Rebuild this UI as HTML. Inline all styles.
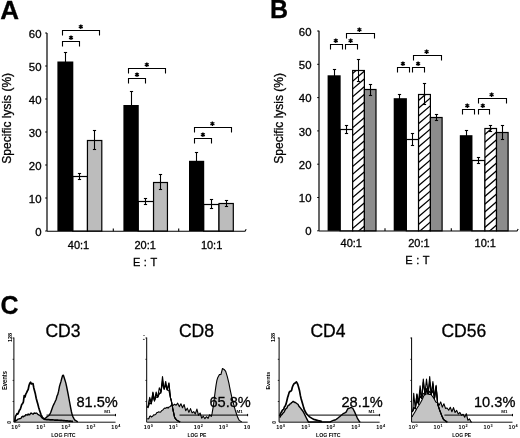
<!DOCTYPE html>
<html><head><meta charset="utf-8"><style>
html,body{margin:0;padding:0;background:#fff;}
svg{display:block;filter:grayscale(1) blur(0.3px);}
text{font-family:"Liberation Sans", sans-serif;fill:#000;}
.t{stroke:#000;stroke-width:0.3px;}
</style></head><body>
<svg width="520" height="438" viewBox="0 0 520 438">
<rect width="520" height="438" fill="#fff"/>
<g id="A">
<text class="t" x="0.30" y="19.00" font-size="26" text-anchor="start" font-weight="bold" >A</text>
<line x1="47.00" y1="33.00" x2="47.00" y2="231.00" stroke="#000" stroke-width="1.2"/>
<line x1="45.20" y1="231.00" x2="47.00" y2="231.00" stroke="#000" stroke-width="1.0"/>
<text class="t" x="41.50" y="235.60" font-size="11.4" text-anchor="end" font-weight="normal" >0</text>
<line x1="45.20" y1="198.00" x2="47.00" y2="198.00" stroke="#000" stroke-width="1.0"/>
<text class="t" x="41.50" y="202.60" font-size="11.4" text-anchor="end" font-weight="normal" >10</text>
<line x1="45.20" y1="165.00" x2="47.00" y2="165.00" stroke="#000" stroke-width="1.0"/>
<text class="t" x="41.50" y="169.60" font-size="11.4" text-anchor="end" font-weight="normal" >20</text>
<line x1="45.20" y1="132.00" x2="47.00" y2="132.00" stroke="#000" stroke-width="1.0"/>
<text class="t" x="41.50" y="136.60" font-size="11.4" text-anchor="end" font-weight="normal" >30</text>
<line x1="45.20" y1="99.00" x2="47.00" y2="99.00" stroke="#000" stroke-width="1.0"/>
<text class="t" x="41.50" y="103.60" font-size="11.4" text-anchor="end" font-weight="normal" >40</text>
<line x1="45.20" y1="66.00" x2="47.00" y2="66.00" stroke="#000" stroke-width="1.0"/>
<text class="t" x="41.50" y="70.60" font-size="11.4" text-anchor="end" font-weight="normal" >50</text>
<line x1="45.20" y1="33.00" x2="47.00" y2="33.00" stroke="#000" stroke-width="1.0"/>
<text class="t" x="41.50" y="37.60" font-size="11.4" text-anchor="end" font-weight="normal" >60</text>
<path d="M47.00,231.30 H245.00 l1.2,-2" fill="none" stroke="#000" stroke-width="1.1"/>
<line x1="113.30" y1="231.30" x2="113.30" y2="228.50" stroke="#000" stroke-width="1.1"/>
<line x1="178.70" y1="231.30" x2="178.70" y2="228.50" stroke="#000" stroke-width="1.1"/>
<rect x="72.70" y="176.50" width="14.75" height="54.50" fill="#fff" stroke="#000" stroke-width="1.2"/>
<rect x="87.45" y="140.50" width="14.35" height="90.50" fill="#bcbcbc" stroke="#000" stroke-width="1.2"/>
<rect x="57.40" y="61.50" width="15.90" height="169.50" fill="#000"/>
<line x1="65.50" y1="52.50" x2="65.50" y2="70.50" stroke="#000" stroke-width="1.1"/>
<line x1="63.90" y1="52.50" x2="67.10" y2="52.50" stroke="#000" stroke-width="1.1"/>
<line x1="63.90" y1="70.50" x2="67.10" y2="70.50" stroke="#000" stroke-width="1.1"/>
<line x1="79.50" y1="173.50" x2="79.50" y2="179.50" stroke="#000" stroke-width="1.1"/>
<line x1="77.90" y1="173.50" x2="81.10" y2="173.50" stroke="#000" stroke-width="1.1"/>
<line x1="77.90" y1="179.50" x2="81.10" y2="179.50" stroke="#000" stroke-width="1.1"/>
<line x1="94.50" y1="130.50" x2="94.50" y2="149.50" stroke="#000" stroke-width="1.1"/>
<line x1="92.90" y1="130.50" x2="96.10" y2="130.50" stroke="#000" stroke-width="1.1"/>
<line x1="92.90" y1="149.50" x2="96.10" y2="149.50" stroke="#000" stroke-width="1.1"/>
<path d="M62.50,46.50 V41.50 H79.50 V46.50" fill="none" stroke="#000" stroke-width="1.1"/>
<path d="M71.00,35.40 L71.00,40.00 M69.01,36.55 L72.99,38.85 M72.99,36.55 L69.01,38.85 " stroke="#000" stroke-width="1.3" fill="none"/>
<path d="M62.50,35.50 V30.50 H99.50 V35.50" fill="none" stroke="#000" stroke-width="1.1"/>
<path d="M80.80,24.40 L80.80,29.00 M78.81,25.55 L82.79,27.85 M82.79,25.55 L78.81,27.85 " stroke="#000" stroke-width="1.3" fill="none"/>
<rect x="138.15" y="201.50" width="15.40" height="29.50" fill="#fff" stroke="#000" stroke-width="1.2"/>
<rect x="153.55" y="182.50" width="13.90" height="48.50" fill="#bcbcbc" stroke="#000" stroke-width="1.2"/>
<rect x="123.40" y="105.00" width="15.35" height="126.00" fill="#000"/>
<line x1="131.50" y1="91.50" x2="131.50" y2="118.50" stroke="#000" stroke-width="1.1"/>
<line x1="129.90" y1="91.50" x2="133.10" y2="91.50" stroke="#000" stroke-width="1.1"/>
<line x1="129.90" y1="118.50" x2="133.10" y2="118.50" stroke="#000" stroke-width="1.1"/>
<line x1="145.50" y1="198.50" x2="145.50" y2="204.50" stroke="#000" stroke-width="1.1"/>
<line x1="143.90" y1="198.50" x2="147.10" y2="198.50" stroke="#000" stroke-width="1.1"/>
<line x1="143.90" y1="204.50" x2="147.10" y2="204.50" stroke="#000" stroke-width="1.1"/>
<line x1="160.50" y1="174.50" x2="160.50" y2="189.50" stroke="#000" stroke-width="1.1"/>
<line x1="158.90" y1="174.50" x2="162.10" y2="174.50" stroke="#000" stroke-width="1.1"/>
<line x1="158.90" y1="189.50" x2="162.10" y2="189.50" stroke="#000" stroke-width="1.1"/>
<path d="M128.50,83.50 V78.50 H145.50 V83.50" fill="none" stroke="#000" stroke-width="1.1"/>
<path d="M137.00,72.40 L137.00,77.00 M135.01,73.55 L138.99,75.85 M138.99,73.55 L135.01,75.85 " stroke="#000" stroke-width="1.3" fill="none"/>
<path d="M128.50,73.50 V68.50 H165.50 V73.50" fill="none" stroke="#000" stroke-width="1.1"/>
<path d="M146.80,62.40 L146.80,67.00 M144.81,63.55 L148.79,65.85 M148.79,63.55 L144.81,65.85 " stroke="#000" stroke-width="1.3" fill="none"/>
<rect x="203.60" y="204.50" width="15.40" height="26.50" fill="#fff" stroke="#000" stroke-width="1.2"/>
<rect x="219.00" y="203.50" width="14.30" height="27.50" fill="#bcbcbc" stroke="#000" stroke-width="1.2"/>
<rect x="189.00" y="160.80" width="15.20" height="70.20" fill="#000"/>
<line x1="196.50" y1="152.50" x2="196.50" y2="168.50" stroke="#000" stroke-width="1.1"/>
<line x1="194.90" y1="152.50" x2="198.10" y2="152.50" stroke="#000" stroke-width="1.1"/>
<line x1="194.90" y1="168.50" x2="198.10" y2="168.50" stroke="#000" stroke-width="1.1"/>
<line x1="211.50" y1="199.50" x2="211.50" y2="208.50" stroke="#000" stroke-width="1.1"/>
<line x1="209.90" y1="199.50" x2="213.10" y2="199.50" stroke="#000" stroke-width="1.1"/>
<line x1="209.90" y1="208.50" x2="213.10" y2="208.50" stroke="#000" stroke-width="1.1"/>
<line x1="226.50" y1="200.50" x2="226.50" y2="206.50" stroke="#000" stroke-width="1.1"/>
<line x1="224.90" y1="200.50" x2="228.10" y2="200.50" stroke="#000" stroke-width="1.1"/>
<line x1="224.90" y1="206.50" x2="228.10" y2="206.50" stroke="#000" stroke-width="1.1"/>
<path d="M194.50,143.50 V138.50 H211.50 V143.50" fill="none" stroke="#000" stroke-width="1.1"/>
<path d="M202.90,132.40 L202.90,137.00 M200.91,133.55 L204.89,135.85 M204.89,133.55 L200.91,135.85 " stroke="#000" stroke-width="1.3" fill="none"/>
<path d="M194.50,132.50 V127.50 H231.50 V132.50" fill="none" stroke="#000" stroke-width="1.1"/>
<path d="M212.40,121.40 L212.40,126.00 M210.41,122.55 L214.39,124.85 M214.39,122.55 L210.41,124.85 " stroke="#000" stroke-width="1.3" fill="none"/>
<text class="t" x="78.50" y="249.30" font-size="11" text-anchor="middle" font-weight="normal" >40:1</text>
<text class="t" x="145.20" y="249.30" font-size="11" text-anchor="middle" font-weight="normal" >20:1</text>
<text class="t" x="211.60" y="249.30" font-size="11" text-anchor="middle" font-weight="normal" >10:1</text>
<text class="t" x="145.00" y="266.00" font-size="11" text-anchor="middle" font-weight="normal" word-spacing="0.6">E : T</text>
<text class="t" x="10.80" y="118.30" font-size="12" text-anchor="middle" font-weight="normal" transform="rotate(-90 10.8 118.3)">Specific lysis (%)</text>
</g>
<g id="B">
<text class="t" x="270.00" y="18.00" font-size="25" text-anchor="start" font-weight="bold" >B</text>
<line x1="319.00" y1="30.80" x2="319.00" y2="230.80" stroke="#000" stroke-width="1.2"/>
<line x1="317.20" y1="230.80" x2="319.00" y2="230.80" stroke="#000" stroke-width="1.0"/>
<text class="t" x="311.50" y="235.40" font-size="11.4" text-anchor="end" font-weight="normal" >0</text>
<line x1="317.20" y1="197.50" x2="319.00" y2="197.50" stroke="#000" stroke-width="1.0"/>
<text class="t" x="311.50" y="202.10" font-size="11.4" text-anchor="end" font-weight="normal" >10</text>
<line x1="317.20" y1="164.20" x2="319.00" y2="164.20" stroke="#000" stroke-width="1.0"/>
<text class="t" x="311.50" y="168.80" font-size="11.4" text-anchor="end" font-weight="normal" >20</text>
<line x1="317.20" y1="130.90" x2="319.00" y2="130.90" stroke="#000" stroke-width="1.0"/>
<text class="t" x="311.50" y="135.50" font-size="11.4" text-anchor="end" font-weight="normal" >30</text>
<line x1="317.20" y1="97.60" x2="319.00" y2="97.60" stroke="#000" stroke-width="1.0"/>
<text class="t" x="311.50" y="102.20" font-size="11.4" text-anchor="end" font-weight="normal" >40</text>
<line x1="317.20" y1="64.30" x2="319.00" y2="64.30" stroke="#000" stroke-width="1.0"/>
<text class="t" x="311.50" y="68.90" font-size="11.4" text-anchor="end" font-weight="normal" >50</text>
<line x1="317.20" y1="31.00" x2="319.00" y2="31.00" stroke="#000" stroke-width="1.0"/>
<text class="t" x="311.50" y="35.60" font-size="11.4" text-anchor="end" font-weight="normal" >60</text>
<path d="M319.00,231.00 H517.00 l1.2,-2" fill="none" stroke="#000" stroke-width="1.1"/>
<line x1="385.00" y1="231.00" x2="385.00" y2="228.20" stroke="#000" stroke-width="1.1"/>
<line x1="451.30" y1="231.00" x2="451.30" y2="228.20" stroke="#000" stroke-width="1.1"/>
<rect x="340.05" y="129.50" width="12.60" height="101.30" fill="#fff" stroke="#000" stroke-width="1.2"/>
<clipPath id="hc1"><rect x="352.65" y="70.50" width="11.75" height="160.30"/></clipPath>
<rect x="352.65" y="70.50" width="11.75" height="160.30" fill="#fff"/>
<path d="M351.65,58.81 L365.40,46.98 M351.65,66.56 L365.40,54.73 M351.65,74.31 L365.40,62.48 M351.65,82.06 L365.40,70.23 M351.65,89.81 L365.40,77.98 M351.65,97.56 L365.40,85.73 M351.65,105.31 L365.40,93.48 M351.65,113.06 L365.40,101.23 M351.65,120.81 L365.40,108.98 M351.65,128.56 L365.40,116.73 M351.65,136.31 L365.40,124.48 M351.65,144.06 L365.40,132.23 M351.65,151.81 L365.40,139.98 M351.65,159.56 L365.40,147.73 M351.65,167.31 L365.40,155.48 M351.65,175.06 L365.40,163.23 M351.65,182.81 L365.40,170.98 M351.65,190.56 L365.40,178.73 M351.65,198.31 L365.40,186.48 M351.65,206.06 L365.40,194.23 M351.65,213.81 L365.40,201.98 M351.65,221.56 L365.40,209.73 M351.65,229.31 L365.40,217.48 M351.65,237.06 L365.40,225.23 M351.65,244.81 L365.40,232.98 M351.65,252.56 L365.40,240.73 " stroke="#000" stroke-width="1.3" fill="none" clip-path="url(#hc1)"/>
<rect x="352.65" y="70.50" width="11.75" height="160.30" fill="none" stroke="#000" stroke-width="1.2"/>
<rect x="364.40" y="89.50" width="11.60" height="141.30" fill="#8c8c8c" stroke="#000" stroke-width="1.2"/>
<rect x="327.60" y="75.30" width="13.05" height="155.50" fill="#000"/>
<line x1="334.50" y1="69.50" x2="334.50" y2="80.50" stroke="#000" stroke-width="1.1"/>
<line x1="332.90" y1="69.50" x2="336.10" y2="69.50" stroke="#000" stroke-width="1.1"/>
<line x1="332.90" y1="80.50" x2="336.10" y2="80.50" stroke="#000" stroke-width="1.1"/>
<line x1="346.50" y1="125.50" x2="346.50" y2="133.50" stroke="#000" stroke-width="1.1"/>
<line x1="344.90" y1="125.50" x2="348.10" y2="125.50" stroke="#000" stroke-width="1.1"/>
<line x1="344.90" y1="133.50" x2="348.10" y2="133.50" stroke="#000" stroke-width="1.1"/>
<line x1="358.50" y1="59.50" x2="358.50" y2="81.50" stroke="#000" stroke-width="1.1"/>
<line x1="356.90" y1="59.50" x2="360.10" y2="59.50" stroke="#000" stroke-width="1.1"/>
<line x1="356.90" y1="81.50" x2="360.10" y2="81.50" stroke="#000" stroke-width="1.1"/>
<line x1="370.50" y1="84.50" x2="370.50" y2="95.50" stroke="#000" stroke-width="1.1"/>
<line x1="368.90" y1="84.50" x2="372.10" y2="84.50" stroke="#000" stroke-width="1.1"/>
<line x1="368.90" y1="95.50" x2="372.10" y2="95.50" stroke="#000" stroke-width="1.1"/>
<path d="M330.50,49.40 V44.50 H342.50 V49.40" fill="none" stroke="#000" stroke-width="1.1"/>
<path d="M335.80,38.40 L335.80,43.00 M333.81,39.55 L337.79,41.85 M337.79,39.55 L333.81,41.85 " stroke="#000" stroke-width="1.3" fill="none"/>
<path d="M345.50,49.40 V44.50 H357.50 V49.40" fill="none" stroke="#000" stroke-width="1.1"/>
<path d="M350.60,38.40 L350.60,43.00 M348.61,39.55 L352.59,41.85 M352.59,39.55 L348.61,41.85 " stroke="#000" stroke-width="1.3" fill="none"/>
<path d="M346.50,38.40 V33.50 H374.50 V38.40" fill="none" stroke="#000" stroke-width="1.1"/>
<path d="M359.40,27.40 L359.40,32.00 M357.41,28.55 L361.39,30.85 M361.39,28.55 L357.41,30.85 " stroke="#000" stroke-width="1.3" fill="none"/>
<rect x="406.30" y="139.50" width="12.25" height="91.30" fill="#fff" stroke="#000" stroke-width="1.2"/>
<clipPath id="hc2"><rect x="418.55" y="94.50" width="11.85" height="136.30"/></clipPath>
<rect x="418.55" y="94.50" width="11.85" height="136.30" fill="#fff"/>
<path d="M417.55,85.81 L431.40,73.90 M417.55,93.56 L431.40,81.65 M417.55,101.31 L431.40,89.40 M417.55,109.06 L431.40,97.15 M417.55,116.81 L431.40,104.90 M417.55,124.56 L431.40,112.65 M417.55,132.31 L431.40,120.40 M417.55,140.06 L431.40,128.15 M417.55,147.81 L431.40,135.90 M417.55,155.56 L431.40,143.65 M417.55,163.31 L431.40,151.40 M417.55,171.06 L431.40,159.15 M417.55,178.81 L431.40,166.90 M417.55,186.56 L431.40,174.65 M417.55,194.31 L431.40,182.40 M417.55,202.06 L431.40,190.15 M417.55,209.81 L431.40,197.90 M417.55,217.56 L431.40,205.65 M417.55,225.31 L431.40,213.40 M417.55,233.06 L431.40,221.15 M417.55,240.81 L431.40,228.90 M417.55,248.56 L431.40,236.65 M417.55,256.31 L431.40,244.40 " stroke="#000" stroke-width="1.3" fill="none" clip-path="url(#hc2)"/>
<rect x="418.55" y="94.50" width="11.85" height="136.30" fill="none" stroke="#000" stroke-width="1.2"/>
<rect x="430.40" y="117.50" width="11.70" height="113.30" fill="#8c8c8c" stroke="#000" stroke-width="1.2"/>
<rect x="393.70" y="98.20" width="13.20" height="132.60" fill="#000"/>
<line x1="399.50" y1="94.50" x2="399.50" y2="100.50" stroke="#000" stroke-width="1.1"/>
<line x1="397.90" y1="94.50" x2="401.10" y2="94.50" stroke="#000" stroke-width="1.1"/>
<line x1="397.90" y1="100.50" x2="401.10" y2="100.50" stroke="#000" stroke-width="1.1"/>
<line x1="412.50" y1="133.50" x2="412.50" y2="145.50" stroke="#000" stroke-width="1.1"/>
<line x1="410.90" y1="133.50" x2="414.10" y2="133.50" stroke="#000" stroke-width="1.1"/>
<line x1="410.90" y1="145.50" x2="414.10" y2="145.50" stroke="#000" stroke-width="1.1"/>
<line x1="424.50" y1="83.50" x2="424.50" y2="104.50" stroke="#000" stroke-width="1.1"/>
<line x1="422.90" y1="83.50" x2="426.10" y2="83.50" stroke="#000" stroke-width="1.1"/>
<line x1="422.90" y1="104.50" x2="426.10" y2="104.50" stroke="#000" stroke-width="1.1"/>
<line x1="436.50" y1="114.50" x2="436.50" y2="120.50" stroke="#000" stroke-width="1.1"/>
<line x1="434.90" y1="114.50" x2="438.10" y2="114.50" stroke="#000" stroke-width="1.1"/>
<line x1="434.90" y1="120.50" x2="438.10" y2="120.50" stroke="#000" stroke-width="1.1"/>
<path d="M397.50,72.40 V67.50 H409.50 V72.40" fill="none" stroke="#000" stroke-width="1.1"/>
<path d="M402.90,61.40 L402.90,66.00 M400.91,62.55 L404.89,64.85 M404.89,62.55 L400.91,64.85 " stroke="#000" stroke-width="1.3" fill="none"/>
<path d="M412.50,72.40 V67.50 H424.50 V72.40" fill="none" stroke="#000" stroke-width="1.1"/>
<path d="M418.10,61.40 L418.10,66.00 M416.11,62.55 L420.09,64.85 M420.09,62.55 L416.11,64.85 " stroke="#000" stroke-width="1.3" fill="none"/>
<path d="M413.50,60.40 V55.50 H441.50 V60.40" fill="none" stroke="#000" stroke-width="1.1"/>
<path d="M426.60,49.40 L426.60,54.00 M424.61,50.55 L428.59,52.85 M428.59,50.55 L424.61,52.85 " stroke="#000" stroke-width="1.3" fill="none"/>
<rect x="471.85" y="160.50" width="13.05" height="70.30" fill="#fff" stroke="#000" stroke-width="1.2"/>
<clipPath id="hc3"><rect x="484.90" y="128.50" width="11.60" height="102.30"/></clipPath>
<rect x="484.90" y="128.50" width="11.60" height="102.30" fill="#fff"/>
<path d="M483.90,119.71 L497.50,108.01 M483.90,127.46 L497.50,115.76 M483.90,135.21 L497.50,123.51 M483.90,142.96 L497.50,131.26 M483.90,150.71 L497.50,139.01 M483.90,158.46 L497.50,146.76 M483.90,166.21 L497.50,154.51 M483.90,173.96 L497.50,162.26 M483.90,181.71 L497.50,170.01 M483.90,189.46 L497.50,177.76 M483.90,197.21 L497.50,185.51 M483.90,204.96 L497.50,193.26 M483.90,212.71 L497.50,201.01 M483.90,220.46 L497.50,208.76 M483.90,228.21 L497.50,216.51 M483.90,235.96 L497.50,224.26 M483.90,243.71 L497.50,232.01 M483.90,251.46 L497.50,239.76 " stroke="#000" stroke-width="1.3" fill="none" clip-path="url(#hc3)"/>
<rect x="484.90" y="128.50" width="11.60" height="102.30" fill="none" stroke="#000" stroke-width="1.2"/>
<rect x="496.50" y="132.50" width="11.60" height="98.30" fill="#8c8c8c" stroke="#000" stroke-width="1.2"/>
<rect x="459.80" y="135.20" width="12.65" height="95.60" fill="#000"/>
<line x1="466.50" y1="130.50" x2="466.50" y2="140.50" stroke="#000" stroke-width="1.1"/>
<line x1="464.90" y1="130.50" x2="468.10" y2="130.50" stroke="#000" stroke-width="1.1"/>
<line x1="464.90" y1="140.50" x2="468.10" y2="140.50" stroke="#000" stroke-width="1.1"/>
<line x1="478.50" y1="157.50" x2="478.50" y2="163.50" stroke="#000" stroke-width="1.1"/>
<line x1="476.90" y1="157.50" x2="480.10" y2="157.50" stroke="#000" stroke-width="1.1"/>
<line x1="476.90" y1="163.50" x2="480.10" y2="163.50" stroke="#000" stroke-width="1.1"/>
<line x1="490.50" y1="125.50" x2="490.50" y2="131.50" stroke="#000" stroke-width="1.1"/>
<line x1="488.90" y1="125.50" x2="492.10" y2="125.50" stroke="#000" stroke-width="1.1"/>
<line x1="488.90" y1="131.50" x2="492.10" y2="131.50" stroke="#000" stroke-width="1.1"/>
<line x1="502.50" y1="125.50" x2="502.50" y2="139.50" stroke="#000" stroke-width="1.1"/>
<line x1="500.90" y1="125.50" x2="504.10" y2="125.50" stroke="#000" stroke-width="1.1"/>
<line x1="500.90" y1="139.50" x2="504.10" y2="139.50" stroke="#000" stroke-width="1.1"/>
<path d="M462.50,114.40 V109.50 H474.50 V114.40" fill="none" stroke="#000" stroke-width="1.1"/>
<path d="M467.30,103.40 L467.30,108.00 M465.31,104.55 L469.29,106.85 M469.29,104.55 L465.31,106.85 " stroke="#000" stroke-width="1.3" fill="none"/>
<path d="M478.50,114.40 V109.50 H489.50 V114.40" fill="none" stroke="#000" stroke-width="1.1"/>
<path d="M482.80,103.40 L482.80,108.00 M480.81,104.55 L484.79,106.85 M484.79,104.55 L480.81,106.85 " stroke="#000" stroke-width="1.3" fill="none"/>
<path d="M478.50,103.40 V98.50 H506.50 V103.40" fill="none" stroke="#000" stroke-width="1.1"/>
<path d="M491.60,92.40 L491.60,97.00 M489.61,93.55 L493.59,95.85 M493.59,93.55 L489.61,95.85 " stroke="#000" stroke-width="1.3" fill="none"/>
<text class="t" x="351.30" y="247.30" font-size="11" text-anchor="middle" font-weight="normal" >40:1</text>
<text class="t" x="418.90" y="247.30" font-size="11" text-anchor="middle" font-weight="normal" >20:1</text>
<text class="t" x="485.30" y="247.30" font-size="11" text-anchor="middle" font-weight="normal" >10:1</text>
<text class="t" x="417.30" y="264.40" font-size="11" text-anchor="middle" font-weight="normal" word-spacing="0.6">E : T</text>
<text class="t" x="283.20" y="118.30" font-size="12" text-anchor="middle" font-weight="normal" transform="rotate(-90 283.2 118.3)">Specific lysis (%)</text>
</g>
<text class="t" x="0.50" y="313.50" font-size="25" text-anchor="start" font-weight="bold" >C</text>
<path d="M14.60,422.00 L15.40,420.15 L16.20,420.68 L17.00,420.20 L17.80,419.13 L18.60,419.12 L19.40,418.70 L20.20,418.59 L21.00,418.28 L21.80,416.81 L22.60,416.21 L23.40,416.85 L24.20,415.83 L25.00,415.99 L25.80,414.63 L26.60,414.95 L27.40,415.04 L28.20,414.07 L29.00,414.89 L29.80,414.64 L30.60,413.24 L31.40,413.09 L32.20,413.73 L33.00,414.20 L33.80,413.33 L34.60,413.01 L35.40,413.41 L36.20,413.00 L37.00,413.41 L37.80,414.26 L38.60,414.88 L39.40,415.06 L40.20,415.82 L41.00,416.61 L41.80,417.66 L42.60,417.99 L43.40,418.19 L44.20,419.16 L45.00,418.34 L45.80,417.76 L46.60,417.12 L47.40,416.54 L48.20,416.02 L49.00,415.50 L49.80,414.17 L50.60,412.72 L51.40,410.48 L52.20,408.24 L53.00,406.00 L53.80,404.40 L54.60,402.80 L55.40,401.00 L56.20,399.23 L57.00,396.02 L57.80,394.37 L58.60,391.18 L59.40,386.79 L60.20,383.93 L61.00,381.40 L61.80,378.25 L62.60,375.48 L63.40,375.29 L64.20,377.82 L65.00,380.27 L65.80,382.89 L66.60,386.50 L67.40,390.50 L68.20,394.50 L69.00,398.78 L69.80,403.22 L70.60,407.50 L71.40,411.50 L72.20,414.88 L73.00,416.87 L73.80,418.43 L74.60,419.86 L75.40,420.37 L76.20,420.87 L77.00,421.37 L77.80,421.87 L78.60,422.00 L79.40,422.00 L80.20,422.00 L81.00,422.00 L81.80,422.00 L82.60,422.00 L83.40,422.00 L84.20,422.00 L85.00,422.00 L85.80,422.00 L86.60,422.00 L87.40,422.00 L88.20,422.00 L89.00,422.00 L89.80,422.00 L90.60,422.00 L91.40,422.00 L92.20,422.00 L93.00,422.00 L93.80,422.00 L94.60,422.00 L95.40,422.00 L96.20,422.00 L97.00,422.00 L97.80,422.00 L98.60,422.00 L99.40,422.00 L100.20,422.00 L101.00,422.00 L101.80,422.00 L102.60,422.00 L103.40,422.00 L104.20,422.00 L105.00,422.00 L105.80,422.00 L106.60,422.00 L107.40,422.00 L108.20,422.00 L109.00,422.00 L109.80,422.00 L110.60,422.00 L111.40,422.00 L112.20,422.00 L113.00,422.00 L113.80,422.00 L114.60,422.00 L115.40,422.00 L115.90,422.00 L115.90,422.20 L14.60,422.20 Z" fill="#c4c4c4" stroke="none"/>
<path d="M14.60,422.00 L15.40,420.15 L16.20,420.68 L17.00,420.20 L17.80,419.13 L18.60,419.12 L19.40,418.70 L20.20,418.59 L21.00,418.28 L21.80,416.81 L22.60,416.21 L23.40,416.85 L24.20,415.83 L25.00,415.99 L25.80,414.63 L26.60,414.95 L27.40,415.04 L28.20,414.07 L29.00,414.89 L29.80,414.64 L30.60,413.24 L31.40,413.09 L32.20,413.73 L33.00,414.20 L33.80,413.33 L34.60,413.01 L35.40,413.41 L36.20,413.00 L37.00,413.41 L37.80,414.26 L38.60,414.88 L39.40,415.06 L40.20,415.82 L41.00,416.61 L41.80,417.66 L42.60,417.99 L43.40,418.19 L44.20,419.16 L45.00,418.34 L45.80,417.76 L46.60,417.12 L47.40,416.54 L48.20,416.02 L49.00,415.50 L49.80,414.17 L50.60,412.72 L51.40,410.48 L52.20,408.24 L53.00,406.00 L53.80,404.40 L54.60,402.80 L55.40,401.00 L56.20,399.23 L57.00,396.02 L57.80,394.37 L58.60,391.18 L59.40,386.79 L60.20,383.93 L61.00,381.40 L61.80,378.25 L62.60,375.48 L63.40,375.29 L64.20,377.82 L65.00,380.27 L65.80,382.89 L66.60,386.50 L67.40,390.50 L68.20,394.50 L69.00,398.78 L69.80,403.22 L70.60,407.50 L71.40,411.50 L72.20,414.88 L73.00,416.87 L73.80,418.43 L74.60,419.86 L75.40,420.37 L76.20,420.87 L77.00,421.37 L77.80,421.87" fill="none" stroke="#000" stroke-width="1.4" stroke-linejoin="round"/>
<path d="M14.60,422.00 L15.40,416.40 L16.20,415.13 L17.00,413.69 L17.80,414.15 L18.60,412.38 L19.40,410.21 L20.20,409.53 L21.00,406.91 L21.80,404.31 L22.60,403.60 L23.40,401.85 L24.20,395.60 L25.00,397.03 L25.80,394.11 L26.60,392.63 L27.40,390.82 L28.20,389.54 L29.00,385.53 L29.80,383.33 L30.60,382.27 L31.40,383.93 L32.20,383.50 L33.00,383.48 L33.80,387.92 L34.60,391.05 L35.40,394.06 L36.20,398.25 L37.00,401.25 L37.80,404.08 L38.60,407.16 L39.40,409.86 L40.20,412.18 L41.00,414.50 L41.80,416.14 L42.60,417.78 L43.40,418.64 L44.20,419.02 L45.00,419.40 L45.80,419.46 L46.60,419.53 L47.40,419.59 L48.20,419.66 L49.00,419.72 L49.80,419.78 L50.60,419.83 L51.40,419.87 L52.20,419.91 L53.00,419.95 L53.80,419.99 L54.60,420.03 L55.40,420.07 L56.20,420.11 L57.00,420.15 L57.80,420.19 L58.60,420.23 L59.40,420.27 L60.20,420.32 L61.00,420.38 L61.80,420.45 L62.60,420.52 L63.40,420.59 L64.20,420.66 L65.00,420.73 L65.80,420.79 L66.60,420.86 L67.40,420.93 L68.20,421.00 L69.00,421.06 L69.80,421.13 L70.60,421.20 L71.40,421.27 L72.20,421.34 L73.00,421.40" fill="none" stroke="#000" stroke-width="1.7" stroke-linejoin="round"/>
<line x1="13.90" y1="337.50" x2="13.90" y2="422.20" stroke="#000" stroke-width="1.0"/>
<line x1="13.90" y1="422.20" x2="115.50" y2="422.20" stroke="#000" stroke-width="0.9"/>
<line x1="12.60" y1="359.30" x2="13.90" y2="359.30" stroke="#000" stroke-width="0.8"/>
<line x1="12.60" y1="380.40" x2="13.90" y2="380.40" stroke="#000" stroke-width="0.8"/>
<line x1="12.60" y1="401.50" x2="13.90" y2="401.50" stroke="#000" stroke-width="0.8"/>
<line x1="12.60" y1="338.00" x2="13.90" y2="338.00" stroke="#000" stroke-width="0.8"/>
<line x1="46.50" y1="415.10" x2="115.50" y2="415.10" stroke="#000" stroke-width="1.0"/>
<line x1="115.50" y1="413.90" x2="115.50" y2="416.20" stroke="#000" stroke-width="1.0"/>
<text class="" x="107.50" y="412.60" font-size="4.0" text-anchor="middle" font-weight="bold" textLength="6.3" lengthAdjust="spacingAndGlyphs">M1</text>
<text class="t" x="63.00" y="336.70" font-size="17.5" text-anchor="middle" font-weight="normal" >CD3</text>
<text class="t" x="117.80" y="406.60" font-size="15" text-anchor="end" font-weight="normal" textLength="41.4" lengthAdjust="spacingAndGlyphs">81.5%</text>
<text x="16.10" y="428.9" font-size="5.4" text-anchor="middle" font-weight="bold" letter-spacing="0.45">10<tspan font-size="3.8" dy="-2.0">0</tspan></text>
<text x="41.10" y="428.9" font-size="5.4" text-anchor="middle" font-weight="bold" letter-spacing="0.45">10<tspan font-size="3.8" dy="-2.0">1</tspan></text>
<text x="66.10" y="428.9" font-size="5.4" text-anchor="middle" font-weight="bold" letter-spacing="0.45">10<tspan font-size="3.8" dy="-2.0">2</tspan></text>
<text x="91.10" y="428.9" font-size="5.4" text-anchor="middle" font-weight="bold" letter-spacing="0.45">10<tspan font-size="3.8" dy="-2.0">3</tspan></text>
<text x="116.10" y="428.9" font-size="5.4" text-anchor="middle" font-weight="bold" letter-spacing="0.45">10<tspan font-size="3.8" dy="-2.0">4</tspan></text>
<text class="" x="63.40" y="436.70" font-size="6" text-anchor="middle" font-weight="bold" textLength="24.5" lengthAdjust="spacingAndGlyphs">LOG FITC</text>
<text x="7.10" y="380.6" font-size="7" font-weight="bold" text-anchor="middle" transform="rotate(-90 7.10 380.6)" textLength="19" lengthAdjust="spacingAndGlyphs">Events</text>
<text x="12.00" y="337.5" font-size="5.5" font-weight="bold" text-anchor="middle" transform="rotate(-90 12.00 337.5)">128</text>
<text x="11.00" y="422.3" font-size="5" font-weight="bold" text-anchor="middle" transform="rotate(-90 11.00 422.3)">0</text>
<path d="M147.30,418.50 L148.10,418.97 L148.90,418.51 L149.70,416.28 L150.50,415.93 L151.30,417.05 L152.10,416.47 L152.90,415.96 L153.70,414.85 L154.50,415.01 L155.30,414.46 L156.10,413.86 L156.90,412.46 L157.70,412.46 L158.50,411.84 L159.30,411.95 L160.10,412.18 L160.90,411.78 L161.70,410.67 L162.50,410.16 L163.30,409.47 L164.10,408.51 L164.90,407.99 L165.70,408.37 L166.50,407.60 L167.30,407.41 L168.10,408.13 L168.90,407.09 L169.70,406.75 L170.50,406.21 L171.30,405.17 L172.90,405.69 L174.50,404.26 L176.10,405.24 L177.70,403.20 L179.30,406.64 L180.90,403.80 L182.50,407.69 L184.10,404.60 L185.70,410.73 L187.30,408.17 L188.90,412.36 L190.50,408.60 L192.10,412.90 L193.70,411.60 L195.30,413.95 L196.90,409.13 L198.50,415.25 L200.10,412.96 L201.70,418.13 L203.30,416.20 L204.90,418.68 L206.50,416.72 L208.10,418.33 L209.70,414.81 L211.30,416.33 L212.10,413.40 L212.90,408.60 L213.70,403.37 L214.50,396.87 L215.30,390.57 L216.10,384.86 L216.90,380.46 L217.70,377.78 L219.30,374.64 L220.90,374.52 L222.50,368.51 L224.10,369.40 L225.70,371.35 L227.30,376.64 L228.90,383.12 L229.70,387.35 L230.50,391.30 L231.30,394.78 L232.10,398.26 L232.90,401.47 L233.70,404.41 L234.50,407.36 L235.30,410.30 L236.10,412.74 L236.90,415.17 L237.70,417.38 L238.50,418.89 L239.30,420.40 L240.10,420.87 L240.90,421.35 L241.70,421.82 L242.50,422.00 L243.30,422.00 L244.10,422.00 L244.90,422.00 L245.70,422.00 L246.50,422.00 L247.30,422.00 L248.10,422.00 L248.30,422.00 L248.30,422.20 L147.30,422.20 Z" fill="#c4c4c4" stroke="none"/>
<path d="M147.30,418.50 L148.10,418.97 L148.90,418.51 L149.70,416.28 L150.50,415.93 L151.30,417.05 L152.10,416.47 L152.90,415.96 L153.70,414.85 L154.50,415.01 L155.30,414.46 L156.10,413.86 L156.90,412.46 L157.70,412.46 L158.50,411.84 L159.30,411.95 L160.10,412.18 L160.90,411.78 L161.70,410.67 L162.50,410.16 L163.30,409.47 L164.10,408.51 L164.90,407.99 L165.70,408.37 L166.50,407.60 L167.30,407.41 L168.10,408.13 L168.90,407.09 L169.70,406.75 L170.50,406.21 L171.30,405.17 L172.90,405.69 L174.50,404.26 L176.10,405.24 L177.70,403.20 L179.30,406.64 L180.90,403.80 L182.50,407.69 L184.10,404.60 L185.70,410.73 L187.30,408.17 L188.90,412.36 L190.50,408.60 L192.10,412.90 L193.70,411.60 L195.30,413.95 L196.90,409.13 L198.50,415.25 L200.10,412.96 L201.70,418.13 L203.30,416.20 L204.90,418.68 L206.50,416.72 L208.10,418.33 L209.70,414.81 L211.30,416.33 L212.10,413.40 L212.90,408.60 L213.70,403.37 L214.50,396.87 L215.30,390.57 L216.10,384.86 L216.90,380.46 L217.70,377.78 L219.30,374.64 L220.90,374.52 L222.50,368.51 L224.10,369.40 L225.70,371.35 L227.30,376.64 L228.90,383.12 L229.70,387.35 L230.50,391.30 L231.30,394.78 L232.10,398.26 L232.90,401.47 L233.70,404.41 L234.50,407.36 L235.30,410.30 L236.10,412.74 L236.90,415.17 L237.70,417.38 L238.50,418.89 L239.30,420.40 L240.10,420.87 L240.90,421.35 L241.70,421.82" fill="none" stroke="#000" stroke-width="1.1" stroke-linejoin="round"/>
<path d="M147.30,407.00 L148.10,406.34 L149.70,397.41 L151.30,403.03 L152.90,392.87 L154.50,400.63 L156.10,394.25 L157.70,397.28 L159.30,387.79 L160.90,391.59 L162.50,383.30 L164.10,388.91 L165.70,381.45 L167.30,389.83 L168.90,383.59 L170.50,397.94 L171.30,400.55 L172.10,404.80 L172.90,409.47 L173.70,413.22 L174.50,416.96 L175.30,418.50 L176.10,419.30 L176.90,420.10 L177.70,420.69 L178.50,421.14 L179.30,421.60 L180.10,422.00" fill="none" stroke="#000" stroke-width="1.1" stroke-linejoin="round"/>
<path d="M147.30,407.00 L148.10,407.56 L149.70,402.94 L151.30,403.99 L152.90,395.42 L154.50,401.21 L156.10,391.98 L157.70,396.99 L159.30,393.52 L160.90,392.19 L162.50,376.61 L164.10,389.49 L165.70,384.82 L167.30,389.73 L168.90,390.59 L170.50,397.94 L171.30,400.55 L172.10,404.80 L172.90,409.47 L173.70,413.22 L174.50,416.96 L175.30,418.50 L176.10,419.30 L176.90,420.10 L177.70,420.69 L178.50,421.14 L179.30,421.60 L180.10,422.00" fill="none" stroke="#000" stroke-width="1.1" stroke-linejoin="round"/>
<path d="M147.30,407.00 L148.10,407.01 L149.70,398.66 L151.30,403.44 L152.90,392.07 L154.50,400.34 L156.10,396.99 L157.70,397.31 L159.30,393.76 L160.90,393.08 L162.50,380.74 L164.10,388.02 L165.70,385.45 L167.30,389.97 L168.90,382.79 L170.50,397.94 L171.30,400.55 L172.10,404.80 L172.90,409.47 L173.70,413.22 L174.50,416.96 L175.30,418.50 L176.10,419.30 L176.90,420.10 L177.70,420.69 L178.50,421.14 L179.30,421.60 L180.10,422.00" fill="none" stroke="#000" stroke-width="1.1" stroke-linejoin="round"/>
<line x1="146.70" y1="337.50" x2="146.70" y2="422.20" stroke="#000" stroke-width="1.0"/>
<line x1="146.70" y1="422.20" x2="247.60" y2="422.20" stroke="#000" stroke-width="0.9"/>
<line x1="145.40" y1="359.30" x2="146.70" y2="359.30" stroke="#000" stroke-width="0.8"/>
<line x1="145.40" y1="380.40" x2="146.70" y2="380.40" stroke="#000" stroke-width="0.8"/>
<line x1="145.40" y1="401.50" x2="146.70" y2="401.50" stroke="#000" stroke-width="0.8"/>
<line x1="145.40" y1="338.00" x2="146.70" y2="338.00" stroke="#000" stroke-width="0.8"/>
<line x1="179.50" y1="415.10" x2="247.60" y2="415.10" stroke="#000" stroke-width="1.0"/>
<line x1="247.60" y1="413.90" x2="247.60" y2="416.20" stroke="#000" stroke-width="1.0"/>
<text class="" x="239.60" y="412.60" font-size="4.0" text-anchor="middle" font-weight="bold" textLength="6.3" lengthAdjust="spacingAndGlyphs">M1</text>
<text class="t" x="196.40" y="336.70" font-size="17.5" text-anchor="middle" font-weight="normal" >CD8</text>
<text class="t" x="250.80" y="406.60" font-size="15" text-anchor="end" font-weight="normal" textLength="41.4" lengthAdjust="spacingAndGlyphs">65.8%</text>
<text x="148.50" y="428.9" font-size="5.4" text-anchor="middle" font-weight="bold" letter-spacing="0.45">10<tspan font-size="3.8" dy="-2.0">0</tspan></text>
<text x="173.50" y="428.9" font-size="5.4" text-anchor="middle" font-weight="bold" letter-spacing="0.45">10<tspan font-size="3.8" dy="-2.0">1</tspan></text>
<text x="198.50" y="428.9" font-size="5.4" text-anchor="middle" font-weight="bold" letter-spacing="0.45">10<tspan font-size="3.8" dy="-2.0">2</tspan></text>
<text x="223.50" y="428.9" font-size="5.4" text-anchor="middle" font-weight="bold" letter-spacing="0.45">10<tspan font-size="3.8" dy="-2.0">3</tspan></text>
<text x="247.30" y="428.9" font-size="5.4" text-anchor="middle" font-weight="bold" letter-spacing="0.45">10</text>
<text class="" x="196.90" y="436.70" font-size="6" text-anchor="middle" font-weight="bold" textLength="19.0" lengthAdjust="spacingAndGlyphs">LOG PE</text>
<ellipse cx="144.0" cy="335.5" rx="1.0" ry="0.6" fill="#666"/>
<ellipse cx="143.8" cy="339.4" rx="1.0" ry="0.7" fill="#555"/>
<path d="M279.60,417.50 L280.40,416.50 L281.20,415.23 L282.00,414.53 L282.80,413.35 L283.60,412.58 L284.40,411.58 L285.20,409.82 L286.00,408.56 L286.80,408.19 L287.60,406.41 L288.40,405.18 L289.20,405.17 L290.00,403.93 L290.80,403.59 L291.60,402.51 L292.40,402.09 L293.20,401.38 L294.00,401.88 L294.80,402.52 L295.60,402.57 L296.40,403.19 L297.20,403.78 L298.00,404.25 L298.80,406.03 L299.60,406.95 L300.40,407.93 L301.20,408.98 L302.00,410.03 L302.80,411.08 L303.60,412.41 L304.40,414.04 L305.20,415.66 L306.00,417.29 L306.80,418.88 L307.60,420.44 L308.40,422.00 L309.20,422.00 L310.00,422.00 L310.80,422.00 L311.60,422.00 L312.40,422.00 L313.20,422.00 L314.00,422.00 L314.80,422.00 L315.60,422.00 L316.40,422.00 L317.20,422.00 L318.00,422.00 L318.80,422.00 L319.60,422.00 L320.40,422.00 L321.20,422.00 L322.00,422.00 L322.80,422.00 L323.60,422.00 L324.40,422.00 L325.20,422.00 L326.00,422.00 L326.80,422.00 L327.60,422.00 L328.40,422.00 L329.20,422.00 L330.00,422.00 L330.80,421.60 L331.60,421.20 L332.40,420.80 L333.20,420.45 L334.00,420.23 L334.80,420.02 L335.60,419.80 L336.40,419.20 L337.20,418.60 L338.00,418.00 L338.80,417.33 L339.60,416.67 L340.40,416.00 L341.20,415.33 L342.00,414.67 L342.80,414.00 L343.60,413.33 L344.40,413.04 L346.10,412.12 L347.80,408.73 L349.50,408.13 L351.20,407.28 L352.90,408.52 L354.60,411.85 L356.30,415.70 L357.10,417.57 L357.90,419.14 L358.70,420.41 L359.50,421.68 L360.30,422.00 L361.10,422.00 L361.90,422.00 L362.70,422.00 L363.50,422.00 L364.30,422.00 L365.10,422.00 L365.90,422.00 L366.70,422.00 L367.50,422.00 L368.30,422.00 L369.10,422.00 L369.90,422.00 L370.70,422.00 L371.50,422.00 L372.30,422.00 L373.10,422.00 L373.90,422.00 L374.70,422.00 L375.50,422.00 L376.30,422.00 L377.10,422.00 L377.90,422.00 L378.70,422.00 L379.50,422.00 L380.30,422.00 L380.70,422.00 L380.70,422.20 L279.60,422.20 Z" fill="#c4c4c4" stroke="none"/>
<path d="M279.60,417.50 L280.40,416.50 L281.20,415.23 L282.00,414.53 L282.80,413.35 L283.60,412.58 L284.40,411.58 L285.20,409.82 L286.00,408.56 L286.80,408.19 L287.60,406.41 L288.40,405.18 L289.20,405.17 L290.00,403.93 L290.80,403.59 L291.60,402.51 L292.40,402.09 L293.20,401.38 L294.00,401.88 L294.80,402.52 L295.60,402.57 L296.40,403.19 L297.20,403.78 L298.00,404.25 L298.80,406.03 L299.60,406.95 L300.40,407.93 L301.20,408.98 L302.00,410.03 L302.80,411.08 L303.60,412.41 L304.40,414.04 L305.20,415.66 L306.00,417.29 L306.80,418.88 L307.60,420.44 L308.40,422.00 L309.20,422.00 L310.00,422.00 L310.80,422.00 L311.60,422.00 L312.40,422.00 L313.20,422.00 L314.00,422.00 L314.80,422.00 L315.60,422.00 L316.40,422.00 L317.20,422.00 L318.00,422.00 L318.80,422.00 L319.60,422.00 L320.40,422.00 L321.20,422.00 L322.00,422.00 L322.80,422.00 L323.60,422.00 L324.40,422.00 L325.20,422.00 L326.00,422.00 L326.80,422.00 L327.60,422.00 L328.40,422.00 L329.20,422.00 L330.00,422.00 L330.80,421.60 L331.60,421.20 L332.40,420.80 L333.20,420.45 L334.00,420.23 L334.80,420.02 L335.60,419.80 L336.40,419.20 L337.20,418.60 L338.00,418.00 L338.80,417.33 L339.60,416.67 L340.40,416.00 L341.20,415.33 L342.00,414.67 L342.80,414.00 L343.60,413.33 L344.40,413.04 L346.10,412.12 L347.80,408.73 L349.50,408.13 L351.20,407.28 L352.90,408.52 L354.60,411.85 L356.30,415.70 L357.10,417.57 L357.90,419.14 L358.70,420.41 L359.50,421.68 L360.30,422.00" fill="none" stroke="#000" stroke-width="1.4" stroke-linejoin="round"/>
<path d="M279.60,416.00 L280.40,413.80 L281.20,412.40 L282.00,411.00 L282.80,409.80 L283.60,409.56 L284.40,407.11 L285.20,406.04 L286.00,404.14 L286.80,400.96 L287.60,397.56 L288.40,395.14 L289.20,392.34 L290.00,391.26 L290.80,391.28 L291.60,390.24 L292.40,386.99 L293.20,385.16 L294.00,383.79 L294.80,383.36 L295.60,382.55 L296.40,381.84 L297.20,383.13 L298.00,385.13 L298.80,388.02 L299.60,391.02 L300.40,395.67 L301.20,398.99 L302.00,401.77 L302.80,404.55 L303.60,407.38 L304.40,409.90 L305.20,411.50 L306.00,413.10 L306.80,414.18 L307.60,414.96 L308.40,415.73 L309.20,416.51 L310.00,417.11 L310.80,417.60 L311.60,418.10 L312.40,418.60 L313.20,419.09 L314.00,419.48 L314.80,419.68 L315.60,419.89 L316.40,420.09 L317.20,420.30 L318.00,420.50 L318.80,420.70 L319.60,420.90 L320.40,421.10 L321.20,421.30 L322.00,421.50" fill="none" stroke="#000" stroke-width="1.7" stroke-linejoin="round"/>
<line x1="279.10" y1="337.50" x2="279.10" y2="422.20" stroke="#000" stroke-width="1.0"/>
<line x1="279.10" y1="422.20" x2="379.60" y2="422.20" stroke="#000" stroke-width="0.9"/>
<line x1="277.80" y1="359.30" x2="279.10" y2="359.30" stroke="#000" stroke-width="0.8"/>
<line x1="277.80" y1="380.40" x2="279.10" y2="380.40" stroke="#000" stroke-width="0.8"/>
<line x1="277.80" y1="401.50" x2="279.10" y2="401.50" stroke="#000" stroke-width="0.8"/>
<line x1="277.80" y1="338.00" x2="279.10" y2="338.00" stroke="#000" stroke-width="0.8"/>
<line x1="309.00" y1="415.10" x2="379.60" y2="415.10" stroke="#000" stroke-width="1.0"/>
<line x1="379.60" y1="413.90" x2="379.60" y2="416.20" stroke="#000" stroke-width="1.0"/>
<text class="" x="371.60" y="412.60" font-size="4.0" text-anchor="middle" font-weight="bold" textLength="6.3" lengthAdjust="spacingAndGlyphs">M1</text>
<text class="t" x="327.90" y="336.70" font-size="17.5" text-anchor="middle" font-weight="normal" >CD4</text>
<text class="t" x="382.80" y="406.60" font-size="15" text-anchor="end" font-weight="normal" textLength="41.4" lengthAdjust="spacingAndGlyphs">28.1%</text>
<text x="280.90" y="428.9" font-size="5.4" text-anchor="middle" font-weight="bold" letter-spacing="0.45">10<tspan font-size="3.8" dy="-2.0">0</tspan></text>
<text x="305.90" y="428.9" font-size="5.4" text-anchor="middle" font-weight="bold" letter-spacing="0.45">10<tspan font-size="3.8" dy="-2.0">1</tspan></text>
<text x="330.90" y="428.9" font-size="5.4" text-anchor="middle" font-weight="bold" letter-spacing="0.45">10<tspan font-size="3.8" dy="-2.0">2</tspan></text>
<text x="355.90" y="428.9" font-size="5.4" text-anchor="middle" font-weight="bold" letter-spacing="0.45">10<tspan font-size="3.8" dy="-2.0">3</tspan></text>
<text x="380.90" y="428.9" font-size="5.4" text-anchor="middle" font-weight="bold" letter-spacing="0.45">10<tspan font-size="3.8" dy="-2.0">4</tspan></text>
<text class="" x="328.20" y="436.70" font-size="6" text-anchor="middle" font-weight="bold" textLength="24.5" lengthAdjust="spacingAndGlyphs">LOG FITC</text>
<text x="270.30" y="380.6" font-size="5.6" font-weight="bold" text-anchor="middle" transform="rotate(-90 270.30 380.6)" textLength="18" lengthAdjust="spacingAndGlyphs">Events</text>
<text x="275.40" y="337.5" font-size="5.5" font-weight="bold" text-anchor="middle" transform="rotate(-90 275.40 337.5)">128</text>
<text x="275.80" y="422.3" font-size="5" font-weight="bold" text-anchor="middle" transform="rotate(-90 275.80 422.3)">0</text>
<path d="M412.10,417.00 L412.90,415.32 L413.70,414.02 L415.40,411.17 L417.10,407.98 L418.80,405.47 L420.50,402.68 L422.20,399.47 L423.90,395.60 L425.60,394.39 L427.30,393.44 L429.00,394.39 L430.70,394.26 L432.40,396.24 L434.10,398.63 L435.80,402.00 L437.50,402.76 L439.10,405.29 L440.70,401.88 L442.30,407.13 L443.90,403.71 L445.50,408.37 L447.10,407.96 L448.70,410.23 L450.30,407.28 L451.90,411.73 L453.50,407.58 L455.10,412.46 L456.70,410.41 L458.30,414.05 L459.90,412.39 L461.50,415.36 L463.10,414.30 L464.70,417.24 L466.30,413.69 L467.90,420.25 L469.50,418.90 L471.10,422.00 L471.90,422.00 L472.70,422.00 L473.50,422.00 L474.30,422.00 L475.10,422.00 L475.90,422.00 L476.70,422.00 L477.50,422.00 L478.30,422.00 L479.10,422.00 L479.90,422.00 L480.70,422.00 L481.50,422.00 L482.30,422.00 L483.10,422.00 L483.90,422.00 L484.70,422.00 L485.50,422.00 L486.30,422.00 L487.10,422.00 L487.90,422.00 L488.70,422.00 L489.50,422.00 L490.30,422.00 L491.10,422.00 L491.90,422.00 L492.70,422.00 L493.50,422.00 L494.30,422.00 L495.10,422.00 L495.90,422.00 L496.70,422.00 L497.50,422.00 L498.30,422.00 L499.10,422.00 L499.90,422.00 L500.70,422.00 L501.50,422.00 L502.30,422.00 L503.10,422.00 L503.90,422.00 L504.70,422.00 L505.50,422.00 L506.30,422.00 L507.10,422.00 L507.90,422.00 L508.70,422.00 L509.50,422.00 L510.30,422.00 L511.10,422.00 L511.90,422.00 L512.50,422.00 L512.50,422.20 L412.10,422.20 Z" fill="#c4c4c4" stroke="none"/>
<path d="M412.10,417.00 L412.90,415.32 L413.70,414.02 L415.40,411.17 L417.10,407.98 L418.80,405.47 L420.50,402.68 L422.20,399.47 L423.90,395.60 L425.60,394.39 L427.30,393.44 L429.00,394.39 L430.70,394.26 L432.40,396.24 L434.10,398.63 L435.80,402.00 L437.50,402.76 L439.10,405.29 L440.70,401.88 L442.30,407.13 L443.90,403.71 L445.50,408.37 L447.10,407.96 L448.70,410.23 L450.30,407.28 L451.90,411.73 L453.50,407.58 L455.10,412.46 L456.70,410.41 L458.30,414.05 L459.90,412.39 L461.50,415.36 L463.10,414.30 L464.70,417.24 L466.30,413.69 L467.90,420.25 L469.50,418.90 L471.10,422.00 L471.90,422.00" fill="none" stroke="#000" stroke-width="1.1" stroke-linejoin="round"/>
<path d="M412.10,412.00 L412.90,410.74 L413.70,393.35 L415.30,409.05 L416.90,393.80 L418.50,402.96 L420.10,395.80 L421.70,398.62 L423.30,381.94 L424.90,393.77 L426.50,391.18 L428.10,394.13 L429.70,391.18 L431.30,394.10 L432.90,390.42 L434.50,398.32 L436.10,386.18 L437.70,404.20 L438.50,406.56 L439.30,409.06 L440.10,411.32 L440.90,413.42 L441.70,415.45 L442.50,417.25 L443.30,419.05 L444.10,419.93 L444.90,420.50 L445.70,421.07 L446.50,421.64 L447.30,422.00" fill="none" stroke="#000" stroke-width="1.1" stroke-linejoin="round"/>
<path d="M412.10,412.00 L412.90,410.74 L413.70,408.76 L415.30,408.46 L416.90,400.01 L418.50,404.37 L420.10,390.81 L421.70,398.23 L423.30,379.15 L424.90,394.32 L426.50,379.10 L428.10,393.16 L429.70,382.01 L431.30,394.74 L432.90,381.58 L434.50,398.23 L436.10,387.37 L437.70,404.20 L438.50,406.56 L439.30,409.06 L440.10,411.32 L440.90,413.42 L441.70,415.45 L442.50,417.25 L443.30,419.05 L444.10,419.93 L444.90,420.50 L445.70,421.07 L446.50,421.64 L447.30,422.00" fill="none" stroke="#000" stroke-width="1.1" stroke-linejoin="round"/>
<path d="M412.10,412.00 L412.90,410.74 L413.70,407.46 L415.30,408.18 L416.90,394.48 L418.50,402.92 L420.10,385.81 L421.70,397.67 L423.30,393.40 L424.90,394.64 L426.50,388.63 L428.10,393.76 L429.70,376.47 L431.30,394.73 L432.90,383.77 L434.50,398.00 L436.10,385.25 L437.70,404.20 L438.50,406.56 L439.30,409.06 L440.10,411.32 L440.90,413.42 L441.70,415.45 L442.50,417.25 L443.30,419.05 L444.10,419.93 L444.90,420.50 L445.70,421.07 L446.50,421.64 L447.30,422.00" fill="none" stroke="#000" stroke-width="1.1" stroke-linejoin="round"/>
<line x1="411.60" y1="337.50" x2="411.60" y2="422.20" stroke="#000" stroke-width="1.0"/>
<line x1="411.60" y1="422.20" x2="512.50" y2="422.20" stroke="#000" stroke-width="0.9"/>
<line x1="410.30" y1="359.30" x2="411.60" y2="359.30" stroke="#000" stroke-width="0.8"/>
<line x1="410.30" y1="380.40" x2="411.60" y2="380.40" stroke="#000" stroke-width="0.8"/>
<line x1="410.30" y1="401.50" x2="411.60" y2="401.50" stroke="#000" stroke-width="0.8"/>
<line x1="410.30" y1="338.00" x2="411.60" y2="338.00" stroke="#000" stroke-width="0.8"/>
<line x1="444.40" y1="415.10" x2="512.50" y2="415.10" stroke="#000" stroke-width="1.0"/>
<line x1="512.50" y1="413.90" x2="512.50" y2="416.20" stroke="#000" stroke-width="1.0"/>
<text class="" x="504.50" y="412.60" font-size="4.0" text-anchor="middle" font-weight="bold" textLength="6.3" lengthAdjust="spacingAndGlyphs">M1</text>
<text class="t" x="463.80" y="336.70" font-size="17.5" text-anchor="middle" font-weight="normal" >CD56</text>
<text class="t" x="515.40" y="406.60" font-size="15" text-anchor="end" font-weight="normal" textLength="41.4" lengthAdjust="spacingAndGlyphs">10.3%</text>
<text x="413.30" y="428.9" font-size="5.4" text-anchor="middle" font-weight="bold" letter-spacing="0.45">10<tspan font-size="3.8" dy="-2.0">0</tspan></text>
<text x="438.30" y="428.9" font-size="5.4" text-anchor="middle" font-weight="bold" letter-spacing="0.45">10<tspan font-size="3.8" dy="-2.0">1</tspan></text>
<text x="463.30" y="428.9" font-size="5.4" text-anchor="middle" font-weight="bold" letter-spacing="0.45">10<tspan font-size="3.8" dy="-2.0">2</tspan></text>
<text x="488.30" y="428.9" font-size="5.4" text-anchor="middle" font-weight="bold" letter-spacing="0.45">10<tspan font-size="3.8" dy="-2.0">3</tspan></text>
<text x="513.30" y="428.9" font-size="5.4" text-anchor="middle" font-weight="bold" letter-spacing="0.45">10<tspan font-size="3.8" dy="-2.0">4</tspan></text>
<text class="" x="461.70" y="436.70" font-size="6" text-anchor="middle" font-weight="bold" textLength="19.0" lengthAdjust="spacingAndGlyphs">LOG PE</text>
</svg></body></html>
